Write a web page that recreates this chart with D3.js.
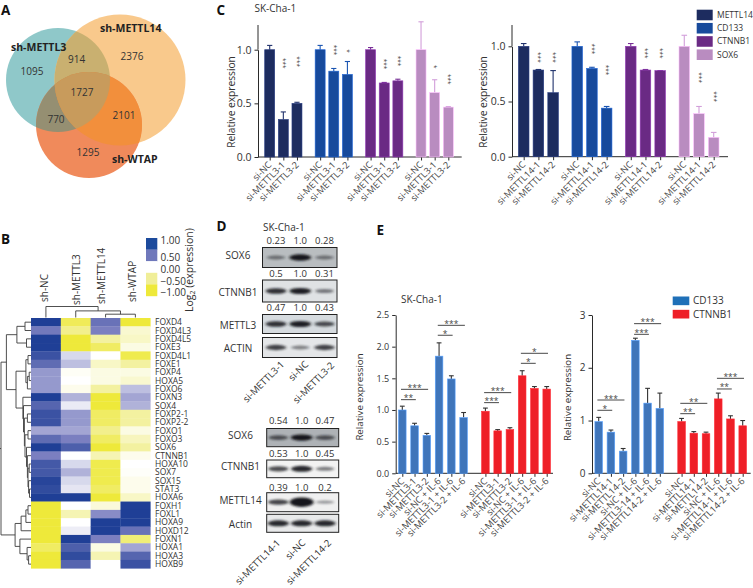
<!DOCTYPE html>
<html><head><meta charset="utf-8">
<script src="https://d3js.org/d3.v7.min.js"></script>
<style>
html,body{margin:0;padding:0;background:#fff}
svg{display:block}
text{font-family:"Open Sans","Noto Sans",sans-serif;fill:#333}
.letter{font-weight:700;font-size:13.5px;fill:#111}
</style></head><body>
<svg id="c" width="753" height="588"></svg>
<script>
// ---------- Panel A
const vennSets = ["sh-METTL3","sh-METTL14","sh-WTAP"];
const vennCounts = [1095,2376,1295,914,770,2101,1727];
// ---------- Panel B
const heatRows = ["FOXD4","FOXD4L3","FOXD4L5","FOXE3","FOXD4L1","FOXE1","FOXP4","HOXA5","FOXO6","FOXN3","SOX4","FOXP2-1","FOXP2-2","FOXO1","FOXO3","SOX6","CTNNB1","HOXA10","SOX7","SOX15","STAT3","HOXA6","FOXH1","FOXL1","HOXA9","HOXD12","FOXN1","HOXA1","HOXA3","HOXB9"];
const heatCols = ["sh-NC","sh-METTL3","sh-METTL14","sh-WTAP"];
const heatNC   = [1,.55,1,1,.85,.65,.4,.4,.4,1,.7,.85,.85,.35,.65,1,.5,.8,.8,.95,.9,1,-1,-1,-1,-1,-1,-.8,-1,-1];
const heatM3   = [-.85,-.6,-1,-1,.15,.25,-.05,0,-.1,.3,.08,.4,.4,.35,.5,.75,0,.15,.3,.15,.1,1,0,-.4,0,.07,1,.75,.9,.7];
const heatM14  = [.6,.5,-.5,-.8,0,-.3,-.15,-.15,-.5,-1,-1,-.8,-.8,-.6,-.8,-1,-.4,-.9,-.9,-.9,-.8,-1,-.2,.45,1,1,.5,-.15,-.4,0];
const heatWTAP = [-1,-.25,-.3,-.15,-.9,-.5,-.15,-.25,.25,.35,.3,-.5,-.5,-.15,-.35,-.5,-.1,0,-.03,-.1,-.1,-.3,1,1,1,.6,-.7,.35,.7,.85];
const heatLegend = [1,.5,0,-.5,-1];
const heatLegendLabels = ["1.00","0.50","0.00","−0.50","−1.00"];
const rowTree = [1,
  [.82,
    [.47,[.2,0,1],[.15,2,3]],
    [.5,
      [.17,[.1,4,5],[.12,[.06,6,7],8]],
      [.27,9,[.25,10,[.22,[.12,11,12],[.2,[.1,13,14],[.15,15,[.12,16,[.1,[.06,17,18],[.08,19,[.05,20,21]]]]]]]]]
    ]
  ],
  [.53,
    [.33,[.17,[.1,22,23],24],25],
    [.37,26,[.13,27,[.08,28,29]]]
  ]
];
const colTree = [1,0,[.6,1,[.3,2,3]]];
// ---------- Panel C
const cGenes = ["METTL14","CD133","CTNNB1","SOX6"];
const cColors = ["#1d2c5f","#174a9c","#6a2a84","#b98cc0"];
const c1Labels = ["si-NC","si-METTL3-1","si-METTL3-2"];
const c1Values = [1,.35,.5, 1,.8,.77, 1,.69,.71, 1,.6,.465];
const c1Upper  = [1.04,.42,.51, 1.04,.825,.89, 1.02,.695,.725, 1.26,.72,.47];
const c1Stars  = ["","***","***","","***","*","","***","***","","*","***"];
const c1StarAt = [0,.873,.888,0,.997,.988,0,.866,.894,0,.84,.724];
const c2Labels = ["si-NC","si-METTL14-1","si-METTL14-2"];
const c2Values = [1,.785,.58, 1,.8,.44, 1,.785,.78, 1,.39,.175];
const c2Upper  = [1.025,.79,.78, 1.04,.81,.455, 1.025,.79,.78, 1.10,.455,.22];
const c2Stars  = ["","***","***","","***","***","","***","***","","***","***"];
const c2StarAt = [0,.90,.90,0,.976,.785,0,.937,.937,0,.716,.544];
const cTicks = [0,.5,1];
// ---------- Panel D
const dLanesTop = ["si-METTL3-1","si-NC","si-METTL3-2"];
const dLanesBottom = ["si-METTL14-1","si-NC","si-METTL14-2"];
const dTopBlots = ["SOX6","CTNNB1","METTL3","ACTIN"];
const dTopRatios = [["0.23","1.0","0.28"],["0.5","1.0","0.31"],["0.47","1.0","0.43"],null];
const dTopSignal = [[.4,1,.4],[.85,.95,.45],[.85,.95,.7],[.75,.4,.75]];
const dTopBack = ["#b9bdc0","#dfe2e4","#d6dbdf","#e4e6e8"];
const dBotBlots = ["SOX6","CTNNB1","METTL14","Actin"];
const dBotRatios = [["0.54","1.0","0.47"],["0.53","1.0","0.45"],["0.39","1.0","0.2"],null];
const dBotSignal = [[.6,1,.6],[.7,.9,.45],[.75,1.7,.3],[.9,.9,.9]];
const dBotBack = ["#aeb2b6","#f2f2f2","#f0f0f0","#e8e9ea"];
// ---------- Panel E
const eGenes = ["CD133","CTNNB1"];
const eColors = ["#3f75ba","#ee1f27"];
const e1Labels = ["si-NC","si-METTL3-1","si-METTL3-2","si-NC + IL-6","si-METTL3-1 + IL-6","si-METTL3-2 + IL-6"];
const e1Values = [1,.75,.6,1.85,1.49,.88, .98,.67,.69,1.54,1.34,1.33];
const e1Upper  = [1.06,.79,.63,2.06,1.54,.96, 1.03,.69,.72,1.62,1.37,1.37];
const e1Sig = [[0,1,1.163,"**"],[0,2,1.326,"***"],[3,4,2.18,"*"],[3,5,2.337,"***"],[6,7,1.116,"***"],[6,8,1.274,"***"],[9,10,1.737,"*"],[9,11,1.895,"*"]];
const e2LabelsBlue = ["si-NC","si-METTL14-1","si-METTL14-2","si-NC + IL-6","si-METTL3-14 + IL-6","si-METTL14-2 + IL-6"];
const e2LabelsRed  = ["si-NC","si-METTL14-1","si-METTL14-2","si-NC + IL-6","si-METTL14-1 + IL-6","si-METTL14-2 + IL-6"];
const e2Values = [.98,.78,.42,2.52,1.33,1.23, .98,.76,.75,1.41,1.03,.9];
const e2Upper  = [1.06,.82,.47,2.56,1.61,1.52, 1.04,.79,.78,1.52,1.09,1.0];
const e2Sig = [[0,1,1.194,"*"],[0,2,1.389,"***"],[3,4,2.634,"***"],[3,5,2.836,"***"],[6,7,1.13,"**"],[6,8,1.326,"**"],[9,10,1.598,"**"],[9,11,1.8,"***"]];

const svg = d3.select("#c");
const defs = svg.append("defs");
defs.append("filter").attr("id","blur").attr("x","-30%").attr("y","-100%").attr("width","160%").attr("height","300%")
  .append("feGaussianBlur").attr("stdDeviation","1.5 0.9");

function letter(t,x,y){svg.append("text").attr("class","letter").attr("x",x).attr("y",y).text(t);}
letter("A",1,14.5);letter("B",1,244);letter("C",216.5,14.5);letter("D",216.5,231);letter("E",376.5,234.5);

// ===== A: Venn
(function(){
  const circles=[{x:58,y:80,r:52},{x:120,y:80,r:65.5},{x:89,y:125,r:53}];
  const g=svg.append("g");
  circles.forEach((c,i)=>defs.append("clipPath").attr("id","vc"+i).append("circle").attr("cx",c.x).attr("cy",c.y).attr("r",c.r));
  const regions=[[[0],"#8fc8c9"],[[1],"#f9c98c"],[[2],"#f08a5b"],[[0,1],"#c9b070"],[[0,2],"#958f72"],[[1,2],"#f28f3c"],[[0,1,2],"#c89b5c"]];
  regions.forEach(([m,col])=>{
    let p=g;
    m.slice(0,-1).forEach(i=>{p=p.append("g").attr("clip-path",`url(#vc${i})`);});
    const c=circles[m[m.length-1]];
    p.append("circle").attr("cx",c.x).attr("cy",c.y).attr("r",c.r).attr("fill",col);
  });
  const pos=[[32,75],[132,60],[88,156],[76.7,63],[56,123],[124,119],[82,96]];
  g.selectAll("text.n").data(vennCounts).join("text").attr("class","n")
    .attr("x",(d,i)=>pos[i][0]).attr("y",(d,i)=>pos[i][1]).attr("text-anchor","middle")
    .style("font-size","10px").text(d=>d);
  const lp=[[11,50.5],[100,32],[112,163]];
  g.selectAll("text.s").data(vennSets).join("text").attr("class","s")
    .attr("x",(d,i)=>lp[i][0]).attr("y",(d,i)=>lp[i][1])
    .style("font-size","10.5px").style("font-weight","700").style("fill","#222").text(d=>d);
})();

// ===== B: Heatmap
(function(){
  const x=d3.scaleBand().domain(heatCols).range([31,150.3]);
  const y=d3.scaleBand().domain(heatRows).range([318,568.3]);
  const col=d3.scaleLinear().domain([-1,-.5,0,.5,1]).range(["#eee93a","#f3f1a0","#ffffff","#7b7fc0","#1f3f96"]);
  const series=[heatNC,heatM3,heatM14,heatWTAP];
  const g=svg.append("g");
  series.forEach((s,j)=>{
    g.selectAll(null).data(s).join("rect").attr("x",x(heatCols[j])).attr("width",x.bandwidth()+.3)
      .attr("y",(d,i)=>y(heatRows[i])).attr("height",y.bandwidth()+.3).attr("fill",d=>col(d));
  });
  g.selectAll("text.r").data(heatRows).join("text").attr("class","r").attr("x",155)
    .attr("y",d=>y(d)+y.bandwidth()/2+3).style("font-size","8.5px").text(d=>d);
  const colLab=[[47.8,302],[79.5,305],[105,304],[135.5,302]];
  g.selectAll("text.c").data(heatCols).join("text").attr("class","c")
    .attr("transform",(d,i)=>`translate(${colLab[i][0]},${colLab[i][1]}) rotate(-90)`)
    .style("font-size","10px").text(d=>d);
  // row dendrogram
  const dx=d3.scaleLinear().domain([0,1]).range([31,1]);
  const lp=d3.path();
  function walkR(n){
    if(typeof n==="number") return {p:y(heatRows[n])+y.bandwidth()/2,h:0};
    const a=walkR(n[1]),b=walkR(n[2]),X=dx(n[0]);
    lp.moveTo(dx(a.h),a.p);lp.lineTo(X,a.p);lp.lineTo(X,b.p);lp.lineTo(dx(b.h),b.p);
    return {p:(a.p+b.p)/2,h:n[0]};
  }
  const rt=walkR(rowTree);
  lp.moveTo(dx(1),rt.p);lp.lineTo(0,rt.p);
  g.append("path").attr("d",lp).attr("fill","none").attr("stroke","#3c3c3c").attr("stroke-width",.9);
  // column dendrogram
  const dy=d3.scaleLinear().domain([0,1]).range([317.5,306.5]);
  const cp=d3.path();
  function walkC(n){
    if(typeof n==="number") return {p:x(heatCols[n])+x.bandwidth()/2,h:0};
    const a=walkC(n[1]),b=walkC(n[2]),Y=dy(n[0]);
    cp.moveTo(a.p,dy(a.h));cp.lineTo(a.p,Y);cp.lineTo(b.p,Y);cp.lineTo(b.p,dy(b.h));
    return {p:(a.p+b.p)/2,h:n[0]};
  }
  walkC(colTree);
  g.append("path").attr("d",cp).attr("fill","none").attr("stroke","#3c3c3c").attr("stroke-width",.9);
  // legend
  const ly=d3.scaleBand().domain(heatLegend).range([238,296]);
  const lcol=["#1c4a9c","#6f78bb","#ffffff","#f0ee98","#eee93a"];
  g.selectAll("rect.l").data(heatLegend).join("rect").attr("class","l").attr("x",146).attr("width",11.3)
    .attr("y",d=>ly(d)).attr("height",ly.bandwidth()+.2).attr("fill",(d,i)=>lcol[i]);
  const ty=[244,261,272.5,284.5,295.5];
  g.selectAll("text.l").data(heatLegendLabels).join("text").attr("class","l").attr("x",160.5)
    .attr("y",(d,i)=>ty[i]).style("font-size","10px").text(d=>d);
  const t=g.append("text").attr("transform","translate(192.5,312) rotate(-90)").style("font-size","10.5px");
  t.append("tspan").text("Log");
  t.append("tspan").attr("dy",2.5).style("font-size","7px").text("2");
  t.append("tspan").attr("dy",-2.5).text(" (expression)");
})();

// ===== shared bar chart
function barChart(o){
  const g=svg.append("g");
  const y=d3.scaleLinear().domain([0,o.yMax]).range([o.y0,o.yTop]);
  const x=d3.scaleLinear().domain([o.idx(0),o.idx(o.values.length-1)]).range(o.xr);
  const xf=i=>x(o.idx(i));
  const yAxis=d3.axisLeft(y).tickValues(o.ticks).tickSize(3.5).tickFormat(o.fmt).tickSizeOuter(0);
  const ax=g.append("g").attr("transform",`translate(${o.ax},0)`).call(yAxis);
  const bx=d3.axisBottom(x).tickValues(o.values.map((d,i)=>o.idx(i))).tickSize(3.5).tickSizeOuter(0).tickFormat("");
  const a2=g.append("g").attr("transform",`translate(0,${o.y0})`).call(bx);
  a2.select(".domain").attr("d",`M${o.ax},0H${o.axEnd}`);
  [ax,a2].forEach(a=>{a.selectAll("path,line").attr("stroke",o.axisCol||"#2a2a2a").attr("stroke-width",1);
    a.selectAll("text").style("font-size",o.tickFont+"px").style("font-family",'"Open Sans"').attr("fill","#333");});
  // error bars
  const eb=g.append("g");
  o.values.forEach((v,i)=>{
    const c=o.errCol||d3.color(o.color(i)).brighter(.35).formatHex();
    eb.append("line").attr("x1",xf(i)).attr("x2",xf(i)).attr("y1",y(v)).attr("y2",y(o.upper[i])).attr("stroke",c).attr("stroke-width",1.1);
    eb.append("line").attr("x1",xf(i)-o.cap).attr("x2",xf(i)+o.cap).attr("y1",y(o.upper[i])).attr("y2",y(o.upper[i])).attr("stroke",c).attr("stroke-width",1.1);
  });
  g.selectAll("rect.b").data(o.values).join("rect").attr("class","b")
    .attr("x",(d,i)=>xf(i)-o.bw/2).attr("width",o.bw)
    .attr("y",d=>y(d)).attr("height",d=>o.y0-y(d))
    .attr("fill",(d,i)=>o.color(i)).attr("stroke",(d,i)=>d3.color(o.color(i)).brighter(.9).formatHex()).attr("stroke-width",.6);
  g.selectAll("text.x").data(o.labels).join("text").attr("class","x")
    .attr("transform",(d,i)=>`translate(${xf(i)+2.5},${o.y0+8.5}) rotate(-45)`)
    .attr("text-anchor","end").style("font-size",o.labFont+"px").style("fill","#444").text(d=>d);
  if(o.ylabel){
    g.append("text").attr("transform",`translate(${o.ylabel[0]},${o.ylabel[1]}) rotate(-90)`).attr("text-anchor","middle")
      .style("font-size",o.ylabel[2]+"px").text("Relative expression");
  }
  if(o.stars){
    g.selectAll("text.st").data(o.stars).join("text").attr("class","st")
      .attr("transform",(d,i)=>`translate(${xf(i)-2.2},${y(o.starAt[i])}) rotate(90)`)
      .attr("text-anchor","middle").style("font-size","6.5px").style("fill","#444").text(d=>d);
  }
  if(o.sig){
    o.sig.forEach(([a,b,v,s])=>{
      g.append("line").attr("x1",xf(a)-1.3).attr("x2",xf(b)+1.3).attr("y1",y(v)).attr("y2",y(v)).attr("stroke","#333").attr("stroke-width",.9);
      g.append("text").attr("x",(xf(a)+xf(b))/2).attr("y",y(v)+1.5).attr("text-anchor","middle").style("font-size","8.5px").style("fill","#444").text(s);
    });
  }
}
barChart({values:c1Values,upper:c1Upper,labels:[0,1,2,3].flatMap(()=>c1Labels),color:i=>cColors[Math.floor(i/3)],
  idx:i=>Math.floor(i/3)*3.7+i%3,xr:[269.7,448.3],y0:157,yTop:49.7,yMax:1,ticks:cTicks,fmt:d3.format(".1f"),
  ax:258,axEnd:461.7,bw:10,cap:2.6,tickFont:10.5,labFont:9.2,ylabel:[235,102,10.2],stars:c1Stars,starAt:c1StarAt});
barChart({values:c2Values,upper:c2Upper,labels:[0,1,2,3].flatMap(()=>c2Labels),color:i=>cColors[Math.floor(i/3)],
  idx:i=>Math.floor(i/3)*3.64+i%3,xr:[523.7,713.7],y0:156.7,yTop:46.3,yMax:1,ticks:cTicks,fmt:d3.format(".1f"),
  ax:512,axEnd:728,bw:10.6,cap:2.8,tickFont:10.5,labFont:9.2,ylabel:[486.5,102,10.2],stars:c2Stars,starAt:c2StarAt});
// axis extensions for panel C
svg.append("line").attr("x1",258).attr("x2",258).attr("y1",25).attr("y2",49.7).attr("stroke","#2a2a2a");
svg.append("line").attr("x1",512).attr("x2",512).attr("y1",25).attr("y2",46.3).attr("stroke","#2a2a2a");
svg.append("text").attr("x",254.5).attr("y",11.5).style("font-size","10px").text("SK-Cha-1");
const cLegY=d3.scaleBand().domain(cGenes).range([9.7,60]).paddingInner(.2);
svg.selectAll("rect.cl").data(cGenes).join("rect").attr("class","cl").attr("x",696.7).attr("width",16)
  .attr("y",d=>cLegY(d)).attr("height",cLegY.bandwidth()).attr("fill",(d,i)=>cColors[i]);
svg.selectAll("text.cl").data(cGenes).join("text").attr("class","cl").attr("x",717)
  .attr("y",d=>cLegY(d)+cLegY.bandwidth()/2+3).style("font-size","8.5px").text(d=>d);

barChart({values:e1Values,upper:e1Upper,labels:[...e1Labels,...e1Labels],color:i=>eColors[Math.floor(i/6)],
  idx:i=>Math.floor(i/6)*6.78+i%6,xr:[402.3,546.7],y0:473.3,yTop:315,yMax:2.5,ticks:[0,.5,1,1.5,2,2.5],fmt:d3.format(".1f"),
  ax:395.7,axEnd:553,bw:7.6,cap:2.4,tickFont:9,labFont:9.3,ylabel:[362.5,397,9.7],errCol:"#333",sig:e1Sig});
barChart({values:e2Values,upper:e2Upper,labels:[...e2LabelsBlue,...e2LabelsRed],color:i=>eColors[Math.floor(i/6)],
  idx:i=>Math.floor(i/6)*6.78+i%6,xr:[598.7,742.7],y0:473.3,yTop:315,yMax:3,ticks:[0,1,2,3],fmt:d3.format("d"),
  ax:592,axEnd:750.7,bw:7.6,cap:2.4,tickFont:10,labFont:9.3,ylabel:[570.8,397.5,9.7],errCol:"#333",sig:e2Sig});
svg.append("text").attr("x",401).attr("y",302.5).style("font-size","10px").text("SK-Cha-1");
const eLegY=d3.scaleBand().domain(eGenes).range([296.5,318.5]).paddingInner(.35);
svg.selectAll("rect.el").data(eGenes).join("rect").attr("class","el").attr("x",672.7).attr("width",16.6)
  .attr("y",d=>eLegY(d)).attr("height",eLegY.bandwidth()).attr("fill",(d,i)=>["#1f70b8","#ee1f27"][i]);
svg.selectAll("text.el").data(eGenes).join("text").attr("class","el").attr("x",693)
  .attr("y",d=>eLegY(d)+eLegY.bandwidth()/2+3.4).style("font-size","10px").text(d=>d);

// ===== D: Blots
function blots(o){
  const g=svg.append("g");
  const x=d3.scalePoint().domain(o.lanes).range(o.laneX);
  o.names.forEach((nm,i)=>{
    const b=o.boxes[i];
    const cid="bc"+o.id+i;
    defs.append("clipPath").attr("id",cid).append("rect").attr("x",o.xr[0]).attr("y",b[0]).attr("width",o.xr[1]-o.xr[0]).attr("height",b[1]-b[0]);
    g.append("rect").attr("x",o.xr[0]).attr("y",b[0]).attr("width",o.xr[1]-o.xr[0]).attr("height",b[1]-b[0]).attr("fill",o.back[i]);
    const bg=g.append("g").attr("clip-path",`url(#${cid})`);
    const my=(b[0]+b[1])/2;
    bg.selectAll("ellipse").data(o.signal[i]).join("ellipse")
      .attr("cx",(d,j)=>x(o.lanes[j])).attr("cy",my)
      .attr("rx",d=>8+3*Math.min(d,1.3)).attr("ry",d=>1+2.2*d)
      .attr("fill","#15181c").attr("opacity",d=>Math.min(1,.15+.85*d)).attr("filter","url(#blur)");
    g.append("rect").attr("x",o.xr[0]).attr("y",b[0]).attr("width",o.xr[1]-o.xr[0]).attr("height",b[1]-b[0])
      .attr("fill","none").attr("stroke","#222").attr("stroke-width",1);
    g.append("text").attr("x",o.labX).attr("y",o.labY[i]).attr("text-anchor","middle").style("font-size","10px").text(nm);
    if(o.ratios[i]) g.selectAll(null).data(o.ratios[i]).join("text")
      .attr("x",(d,j)=>x(o.lanes[j])).attr("y",b[0]-o.ratioGap[i]).attr("text-anchor","middle").style("font-size","9.5px").text(d=>d);
  });
  g.selectAll("text.lane").data(o.lanes).join("text").attr("class","lane")
    .attr("transform",(d,i)=>`translate(${o.laneEnd[i][0]},${o.laneEnd[i][1]}) rotate(-45)`)
    .attr("text-anchor","end").style("font-size","9.6px").text(d=>d);
}
blots({id:"t",names:dTopBlots,lanes:dLanesTop,laneX:[276,324.5],xr:[262.5,337],
  boxes:[[247.5,267.5],[280,302],[314.5,333.5],[337.5,357.5]],back:dTopBack,signal:dTopSignal,ratios:dTopRatios,ratioGap:[4,3.5,3.5],
  labX:238,labY:[258.5,295.5,328.5,351.5],laneEnd:[[285,365],[309,365],[335,366]]});
blots({id:"b",names:dBotBlots,lanes:dLanesBottom,laneX:[278.3,325],xr:[266.7,338.7],
  boxes:[[428.5,446.7],[460,477.7],[492.7,511.7],[514.3,532.3]],back:dBotBack,signal:dBotSignal,ratios:dBotRatios,ratioGap:[5,3,1.5],
  labX:240.5,labY:[438.5,470,504,528],laneEnd:[[281,543.5],[306,543.5],[332,543.5]]});
svg.append("text").attr("x",263).attr("y",230.5).style("font-size","10px").text("SK-Cha-1");
</script>
</body></html>
